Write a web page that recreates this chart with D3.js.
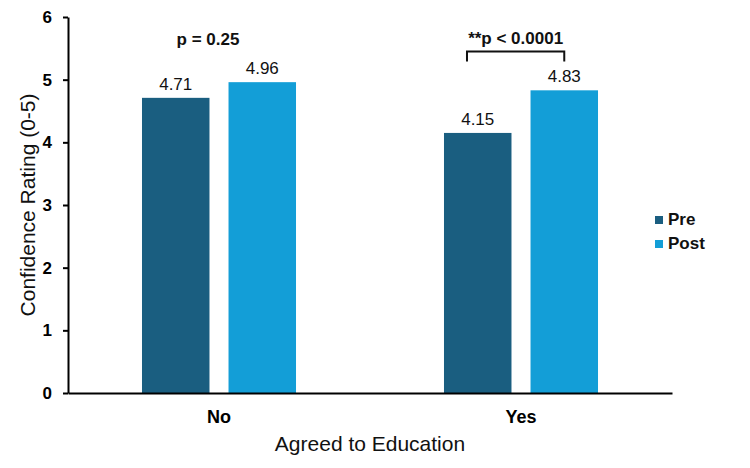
<!DOCTYPE html>
<html>
<head>
<meta charset="utf-8">
<script src="https://cdn.jsdelivr.net/npm/d3@7"></script>
<style>
  html, body { margin: 0; padding: 0; background: #fff; }
  svg { display: block; font-family: "Liberation Sans", Arial, sans-serif; }
  .axis path, .axis line { stroke: #000; stroke-width: 2; }
  .axis text { fill: #000; font-weight: bold; }
</style>
</head>
<body>
<div id="chart"></div>
<script>
(function () {
  "use strict";

  // Data
  const groups = ["No", "Yes"];
  const series = ["Pre", "Post"];
  const preValues = [4.71, 4.15];
  const postValues = [4.96, 4.83];
  const pLabels = ["p = 0.25", "**p < 0.0001"];
  const bracketed = [false, true];
  const yTicks = [0, 1, 2, 3, 4, 5, 6];

  const COLORS = { Pre: "#1a5e80", Post: "#139ed7" };

  // Dimensions
  const totalW = 750, totalH = 468;
  const margin = { top: 17, right: 78, bottom: 75, left: 68 };
  const width = totalW - margin.left - margin.right;
  const height = totalH - margin.top - margin.bottom;

  const rows = [];
  groups.forEach((grp, i) => {
    rows.push({ grp, s: "Pre", value: preValues[i] });
    rows.push({ grp, s: "Post", value: postValues[i] });
  });

  // Scales
  const x0 = d3.scaleBand()
    .domain(groups)
    .range([0, width])
    .paddingInner(0.49)
    .paddingOuter(0.245);

  const x1 = d3.scaleBand()
    .domain(series)
    .range([0, x0.bandwidth()])
    .paddingInner(0.22);

  const y = d3.scaleLinear().domain([0, 6]).range([height, 0]);

  const svg = d3.select("#chart").append("svg")
    .attr("width", totalW)
    .attr("height", totalH);

  const g = svg.append("g")
    .attr("transform", `translate(${margin.left},${margin.top})`);

  // Bars
  g.selectAll(".bar")
    .data(rows)
    .join("rect")
    .attr("class", "bar")
    .attr("x", d => x0(d.grp) + x1(d.s))
    .attr("width", x1.bandwidth())
    .attr("y", d => y(d.value))
    .attr("height", d => height - y(d.value))
    .attr("fill", d => COLORS[d.s]);

  // Value labels
  g.selectAll(".val")
    .data(rows)
    .join("text")
    .attr("class", "val")
    .attr("x", d => x0(d.grp) + x1(d.s) + x1.bandwidth() / 2)
    .attr("y", d => y(d.value) - 8)
    .attr("text-anchor", "middle")
    .attr("font-size", 17)
    .attr("fill", "#111")
    .text(d => d.value.toFixed(2));

  // Y axis
  g.append("g")
    .attr("class", "axis")
    .call(d3.axisLeft(y).tickValues(yTicks).tickFormat(d3.format("d"))
      .tickSize(5).tickSizeOuter(0).tickPadding(11))
    .selectAll("text").attr("font-size", 17);

  // X axis
  const xAxis = g.append("g")
    .attr("class", "axis")
    .attr("transform", `translate(0,${height})`)
    .call(d3.axisBottom(x0).tickSize(0).tickSizeOuter(0).tickPadding(17));
  xAxis.selectAll("text").attr("font-size", 18);

  // Axis titles
  g.append("text")
    .attr("x", width / 2)
    .attr("y", height + 58)
    .attr("text-anchor", "middle")
    .attr("font-size", 21)
    .attr("fill", "#111")
    .text("Agreed to Education");

  g.append("text")
    .attr("transform", "rotate(-90)")
    .attr("x", -height / 2)
    .attr("y", -33)
    .attr("text-anchor", "middle")
    .attr("font-size", 21)
    .attr("fill", "#111")
    .text("Confidence Rating (0-5)");

  // Significance annotations
  groups.forEach((grp, i) => {
    const cx = x0(grp) + x0.bandwidth() / 2 - 11;
    if (bracketed[i]) {
      const xl = x0(grp) + x1("Pre") + 23;
      const xr = x0(grp) + x1("Post") + x1.bandwidth() / 2;
      const yt = y(5.45);
      g.append("path")
        .attr("d", `M${xl},${yt + 10}V${yt}H${xr}V${yt + 10}`)
        .attr("fill", "none")
        .attr("stroke", "#111")
        .attr("stroke-width", 2);
      g.append("text")
        .attr("x", (xl + xr) / 2)
        .attr("y", yt - 7)
        .attr("text-anchor", "middle")
        .attr("font-size", 17)
        .attr("font-weight", "bold")
        .attr("fill", "#111")
        .text(pLabels[i]);
    } else {
      g.append("text")
        .attr("x", cx)
        .attr("y", y(5.5) - 3)
        .attr("text-anchor", "middle")
        .attr("font-size", 17)
        .attr("font-weight", "bold")
        .attr("fill", "#111")
        .text(pLabels[i]);
    }
  });

  // Legend
  const legend = g.append("g")
    .attr("transform", `translate(${655 - margin.left},${216 - margin.top})`);

  series.forEach((s, i) => {
    const item = legend.append("g").attr("transform", `translate(0,${i * 24})`);
    item.append("rect")
      .attr("width", 8)
      .attr("height", 8)
      .attr("fill", COLORS[s]);
    item.append("text")
      .attr("x", 13)
      .attr("y", 9)
      .attr("font-size", 17)
      .attr("font-weight", "bold")
      .attr("fill", "#111")
      .text(s);
  });
})();
</script>
</body>
</html>
